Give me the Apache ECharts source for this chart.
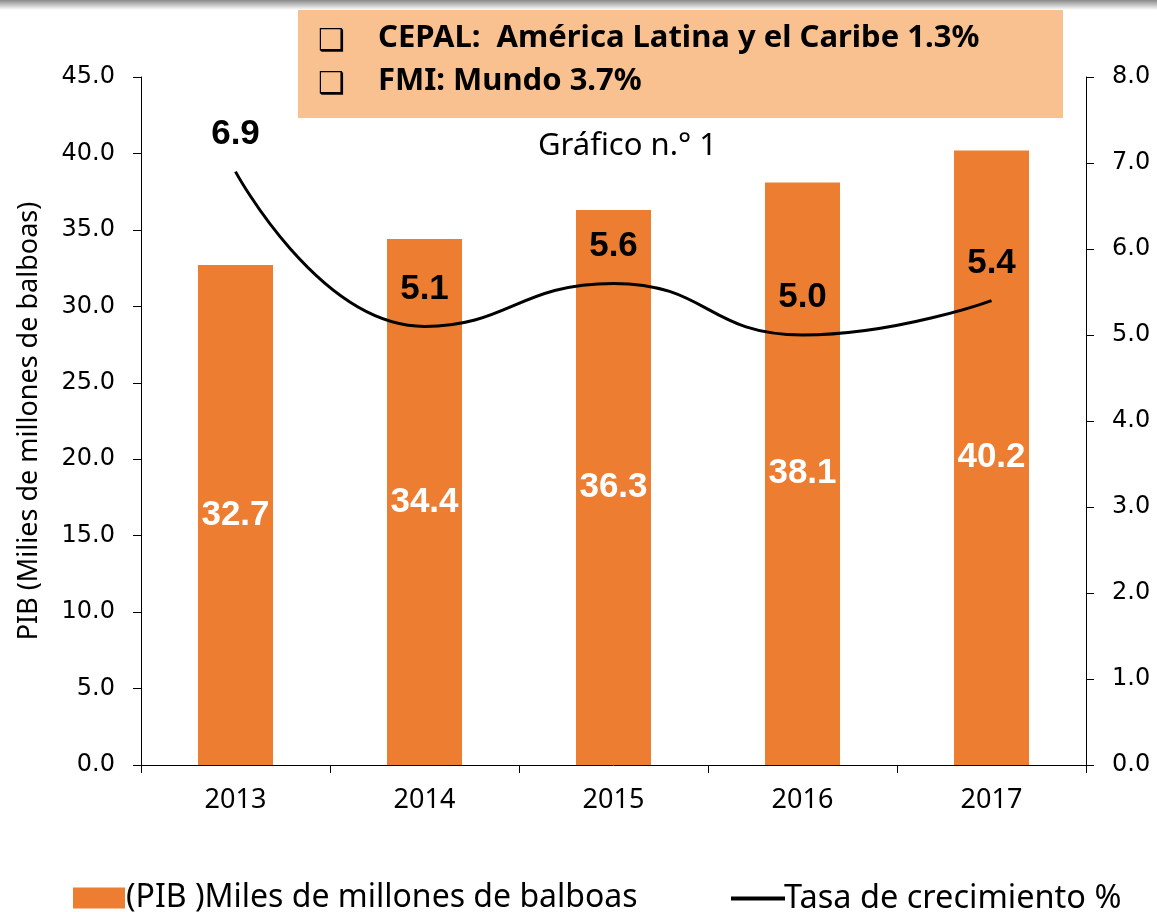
<!DOCTYPE html>
<html>
<head>
<meta charset="utf-8">
<script src="https://cdn.jsdelivr.net/npm/echarts@6/dist/echarts.min.js"></script>
<style>
  html, body { margin: 0; padding: 0; background: #fff; }
  #chart { width: 1157px; height: 912px; }
</style>
</head>
<body>
<div id="chart"></div>
<script>
// datos del gráfico
var years = ['2013', '2014', '2015', '2016', '2017']
var pibData = [32.7, 34.4, 36.3, 38.1, 40.2]
var tasaData = [6.9, 5.1, 5.6, 5.0, 5.4]
var boxLines = ['CEPAL:  América Latina y el Caribe 1.3%', 'FMI: Mundo 3.7%']

var pibName = '(PIB )Miles de millones de balboas'
var tasaName = 'Tasa de crecimiento %'
var narrow = '"Noto Sans", "Open Sans", sans-serif'

var chart = echarts.init(document.getElementById('chart'))

chart.setOption({
  animation: false,
  title: {
    text: 'Gráfico n.° 1',
    left: 533,
    top: 126,
    textStyle: { fontFamily: narrow, fontSize: 31, fontWeight: 'normal', color: '#000' }
  },
  grid: { left: 141, right: 71, top: 77, bottom: 147 },
  legend: [
    {
      data: [{ name: pibName, icon: 'rect' }],
      left: 68,
      top: 877,
      itemWidth: 52,
      itemHeight: 21,
      textStyle: { fontFamily: narrow, fontSize: 32, color: '#000', padding: [0, 0, 0, -4] }
    },
    {
      data: [{ name: tasaName, icon: 'path://M0,0 L54,0 L54,4 L0,4 Z' }],
      left: 726,
      top: 877,
      itemWidth: 54,
      itemHeight: 4,
      textStyle: { fontFamily: narrow, fontSize: 32.5, color: '#000', padding: [0, 0, 0, -6] }
    }
  ],
  xAxis: {
    type: 'category',
    data: years,
    axisLine: { lineStyle: { color: '#000', width: 1 } },
    axisTick: { show: true, length: 8, lineStyle: { color: '#000' } },
    axisLabel: { color: '#000', fontFamily: narrow, fontSize: 27, margin: 22 }
  },
  yAxis: [
    {
      type: 'value',
      min: 0,
      max: 45,
      interval: 5,
      name: 'PIB (Milies de millones de balboas)',
      nameLocation: 'middle',
      nameRotate: 90,
      nameGap: 98,
      nameTextStyle: { fontFamily: narrow, fontSize: 27, color: '#000' },
      splitLine: { show: false },
      axisLine: { show: true, lineStyle: { color: '#000' } },
      axisTick: { show: true, length: 8, lineStyle: { color: '#000' } },
      axisLabel: {
        color: '#000', fontFamily: '"DejaVu Sans", sans-serif', fontSize: 24, margin: 26,
        formatter: function (v) { return v.toFixed(1) }
      }
    },
    {
      type: 'value',
      min: 0,
      max: 8,
      interval: 1,
      position: 'right',
      splitLine: { show: false },
      axisLine: { show: true, lineStyle: { color: '#000' } },
      axisTick: { show: true, length: 8, lineStyle: { color: '#000' } },
      axisLabel: {
        color: '#000', fontFamily: '"DejaVu Sans", sans-serif', fontSize: 24, margin: 26,
        formatter: function (v) { return v.toFixed(1) }
      }
    }
  ],
  series: [
    {
      name: pibName,
      type: 'bar',
      data: pibData,
      barWidth: 75,
      itemStyle: { color: '#ED7D31' },
      label: {
        show: true,
        position: 'inside',
        color: '#fff',
        fontFamily: '"Liberation Sans", Arial, sans-serif',
        fontWeight: 'bold',
        fontSize: 35,
        formatter: function (p) { return p.value.toFixed(1) }
      }
    },
    {
      name: tasaName,
      type: 'line',
      yAxisIndex: 1,
      data: tasaData,
      smooth: true,
      symbol: 'circle',
      symbolSize: 0,
      showSymbol: true,
      lineStyle: { color: '#000', width: 3 },
      itemStyle: { color: '#000' },
      label: {
        show: true,
        position: 'top',
        distance: 20,
        color: '#000',
        fontFamily: '"Liberation Sans", Arial, sans-serif',
        fontWeight: 'bold',
        fontSize: 35,
        formatter: function (p) { return p.value.toFixed(1) }
      }
    }
  ],
  graphic: [
    {
      type: 'rect',
      left: 0,
      top: 0,
      shape: { width: 1157, height: 10 },
      style: {
        fill: new echarts.graphic.LinearGradient(0, 0, 0, 1, [
          { offset: 0, color: '#8a8a8a' },
          { offset: 1, color: '#ffffff' }
        ])
      }
    },
    {
      type: 'rect',
      left: 298,
      top: 10,
      shape: { width: 765, height: 108 },
      style: { fill: '#F9C090' }
    },
    {
      type: 'text',
      left: 318,
      top: 27,
      style: { text: '❑', font: 'bold 30px "DejaVu Sans"', fill: '#000' }
    },
    {
      type: 'text',
      left: 378,
      top: 23,
      style: { text: boxLines[0], font: 'bold 31px "Noto Sans"', fill: '#000' }
    },
    {
      type: 'text',
      left: 318,
      top: 70,
      style: { text: '❑', font: 'bold 30px "DejaVu Sans"', fill: '#000' }
    },
    {
      type: 'text',
      left: 378,
      top: 66,
      style: { text: boxLines[1], font: 'bold 31px "Noto Sans"', fill: '#000' }
    }
  ]
})
</script>
</body>
</html>
